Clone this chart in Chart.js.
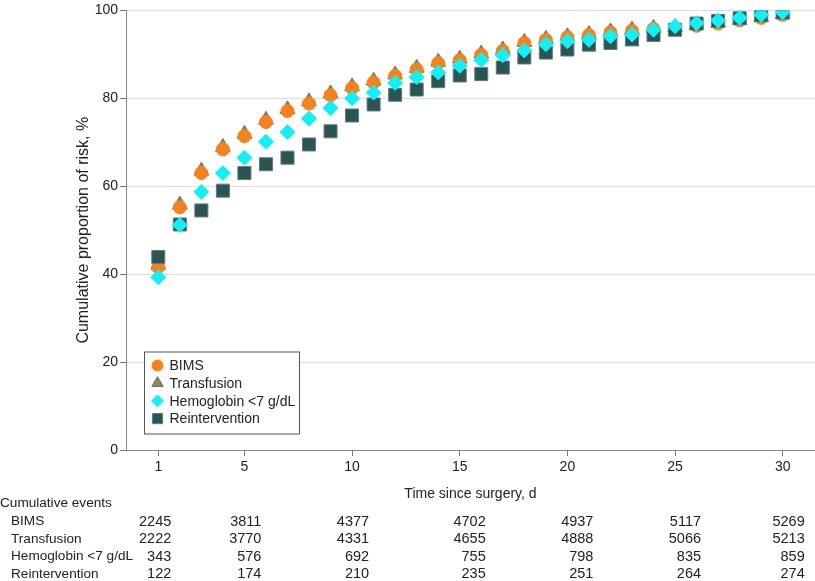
<!DOCTYPE html>
<html>
<head>
<meta charset="utf-8">
<script src="https://cdn.jsdelivr.net/npm/chart.js@4"></script>
<style>
  html, body { margin: 0; padding: 0; background: #fff; }
</style>
</head>
<body>
<canvas id="chart" width="815" height="581"></canvas>
<script>
const days = [1, 2, 3, 4, 5, 6, 7, 8, 9, 10, 11, 12, 13, 14, 15, 16, 17, 18, 19, 20, 21, 22, 23, 24, 25, 26, 27, 28, 29, 30];

const bims = [41.6, 55.2, 63.0, 68.4, 71.4, 74.6, 77.1, 78.8, 80.7, 82.3, 83.6, 85.1, 86.6, 88.0, 88.7, 89.9, 90.8, 92.6, 93.3, 93.9, 94.4, 95.0, 95.4, 95.8, 96.0, 96.5, 97.0, 97.7, 98.3, 99.0];
const transfusion = [42.1, 55.8, 63.5, 68.9, 71.9, 75.1, 77.5, 79.3, 81.1, 82.7, 84.0, 85.4, 86.9, 88.3, 89.0, 90.2, 91.1, 92.8, 93.5, 94.1, 94.6, 95.2, 95.6, 96.0, 96.2, 96.7, 97.2, 97.8, 98.4, 99.1];
const hemoglobin = [39.3, 51.2, 58.7, 63.0, 66.5, 70.1, 72.3, 75.4, 77.8, 80.0, 81.3, 83.5, 84.8, 85.9, 87.4, 88.7, 89.8, 90.9, 92.3, 93.0, 93.3, 94.1, 94.5, 95.6, 96.4, 97.1, 97.7, 98.3, 99.0, 99.6];
const reintervention = [43.9, 51.3, 54.5, 59.0, 63.0, 65.0, 66.5, 69.5, 72.5, 76.1, 78.6, 80.8, 82.0, 83.9, 85.2, 85.5, 87.0, 89.3, 90.4, 91.1, 92.2, 92.6, 93.4, 94.4, 95.6, 97.0, 97.6, 98.2, 98.9, 99.5];

const xTicks = [1, 5, 10, 15, 20, 25, 30];
const yTicks = [0, 20, 40, 60, 80, 100];

const tableTitle = "Cumulative events";
const rowLabels = ["BIMS", "Transfusion", "Hemoglobin <7 g/dL", "Reintervention"];
const eventsBims = [2245, 3811, 4377, 4702, 4937, 5117, 5269];
const eventsTransfusion = [2222, 3770, 4331, 4655, 4888, 5066, 5213];
const eventsHemoglobin = [343, 576, 692, 755, 798, 835, 859];
const eventsReintervention = [122, 174, 210, 235, 251, 264, 274];

const FONT = "'Liberation Sans', Arial, sans-serif";
Chart.defaults.font.family = FONT;
Chart.defaults.color = "#222";

const points = (vals) => days.map((d, i) => ({ x: d, y: vals[i] }));

// order: lower value is drawn on top (diamonds over squares over circles over triangles)
const datasets = [
  { label: "BIMS", data: points(bims), pointStyle: "circle", pointRadius: 6.5,
    backgroundColor: "#f7821b", borderColor: "#f7821b", borderWidth: 1, order: 2,
    legendRadius: 5.5 },
  { label: "Transfusion", data: points(transfusion), pointStyle: "triangle", pointRadius: 8.5,
    backgroundColor: "#88886f", borderColor: "#6e6e5a", borderWidth: 1, order: 3,
    legendRadius: 6.5 },
  { label: "Hemoglobin <7 g/dL", data: points(hemoglobin), pointStyle: "rectRot", pointRadius: 7.5,
    backgroundColor: "#12f0f5", borderColor: "#12f0f5", borderWidth: 1, order: 0,
    legendRadius: 6 },
  { label: "Reintervention", data: points(reintervention), pointStyle: "rect", pointRadius: 9.2,
    backgroundColor: "#2b5454", borderColor: "#5d7c7c", borderWidth: 1, order: 1,
    legendRadius: 7.2 },
];
datasets.forEach((ds) => {
  ds.pointHoverRadius = ds.pointRadius;
  ds.showLine = false;
});

const legendBox = {
  id: "legendBox",
  afterDatasetsDraw(chart) {
    const { ctx, chartArea } = chart;
    const left = chartArea.left + 18;
    const bottom = chartArea.bottom - 16.5;
    const w = 155, h = 82;
    const top = bottom - h;
    ctx.save();
    ctx.fillStyle = "#fff";
    ctx.fillRect(left, top, w, h);
    ctx.strokeStyle = "#555";
    ctx.lineWidth = 1;
    ctx.strokeRect(left + 0.5, top + 0.5, w, h);
    ctx.font = "14px " + FONT;
    ctx.textBaseline = "middle";
    chart.data.datasets.forEach((ds, i) => {
      const y = top + 14 + i * 17.7;
      ctx.fillStyle = ds.backgroundColor;
      ctx.strokeStyle = ds.borderColor;
      Chart.helpers.drawPoint(ctx, { pointStyle: ds.pointStyle, radius: ds.legendRadius, rotation: 0, borderWidth: 1 }, left + 13.5, y);
      ctx.fillStyle = "#222";
      ctx.textAlign = "left";
      ctx.fillText(ds.label, left + 25.5, y + 1);
    });
    ctx.restore();
  },
};

const eventsTable = {
  id: "eventsTable",
  afterDraw(chart) {
    const { ctx } = chart;
    const xs = chart.scales.x;
    const rows = [eventsBims, eventsTransfusion, eventsHemoglobin, eventsReintervention];
    ctx.save();
    ctx.fillStyle = "#222";
    ctx.textBaseline = "middle";
    ctx.textAlign = "left";
    ctx.font = "13.6px " + FONT;
    ctx.fillText(tableTitle, 0, 503);
    rows.forEach((vals, r) => {
      const y = 521.5 + r * 17.5;
      ctx.textAlign = "left";
      ctx.font = "13.6px " + FONT;
      ctx.fillText(rowLabels[r], 11, y);
      ctx.textAlign = "right";
      ctx.font = "14.5px " + FONT;
      vals.forEach((v, c) => {
        const t = xTicks[c];
        // columns are right-aligned a little to the right of each tick
        const off = t === 1 ? 13 : t <= 10 ? 17 : t >= 30 ? 22 : 26;
        ctx.fillText(String(v), xs.getPixelForValue(t) + off, y);
      });
    });
    ctx.restore();
  },
};

new Chart(document.getElementById("chart"), {
  type: "scatter",
  data: { datasets },
  options: {
    responsive: false,
    animation: false,
    layout: { autoPadding: false, padding: { top: 7, right: 0, left: 0, bottom: 0 } },
    plugins: {
      legend: { display: false },
      tooltip: { enabled: false },
    },
    scales: {
      x: {
        type: "linear",
        min: -0.5,
        max: 31.5,
        afterBuildTicks(scale) {
          scale.ticks = xTicks.map((v) => ({ value: v }));
        },
        ticks: { color: "#222", font: { size: 14 }, padding: 3, autoSkip: false, maxRotation: 0 },
        grid: { drawOnChartArea: false, tickColor: "#777", tickLength: 6 },
        border: { color: "#888" },
        title: {
          display: true,
          text: "Time since surgery, d",
          color: "#222",
          font: { size: 14 },
          padding: { top: 0, bottom: 78 },
        },
        afterFit(scale) {
          scale.height = 131;
        },
      },
      y: {
        min: 0,
        max: 100,
        afterBuildTicks(scale) {
          scale.ticks = yTicks.map((v) => ({ value: v }));
        },
        ticks: { color: "#222", font: { size: 14 }, padding: 2 },
        grid: { color: "#dcdcdc", tickColor: "#777", tickLength: 6 },
        border: { color: "#888" },
        title: {
          display: true,
          text: "Cumulative proportion of risk, %",
          color: "#222",
          font: { size: 16 },
          padding: { top: 74, bottom: 0 },
        },
        afterFit(scale) {
          scale.width = 126;
        },
      },
    },
  },
  plugins: [legendBox, eventsTable],
});
</script>
</body>
</html>
